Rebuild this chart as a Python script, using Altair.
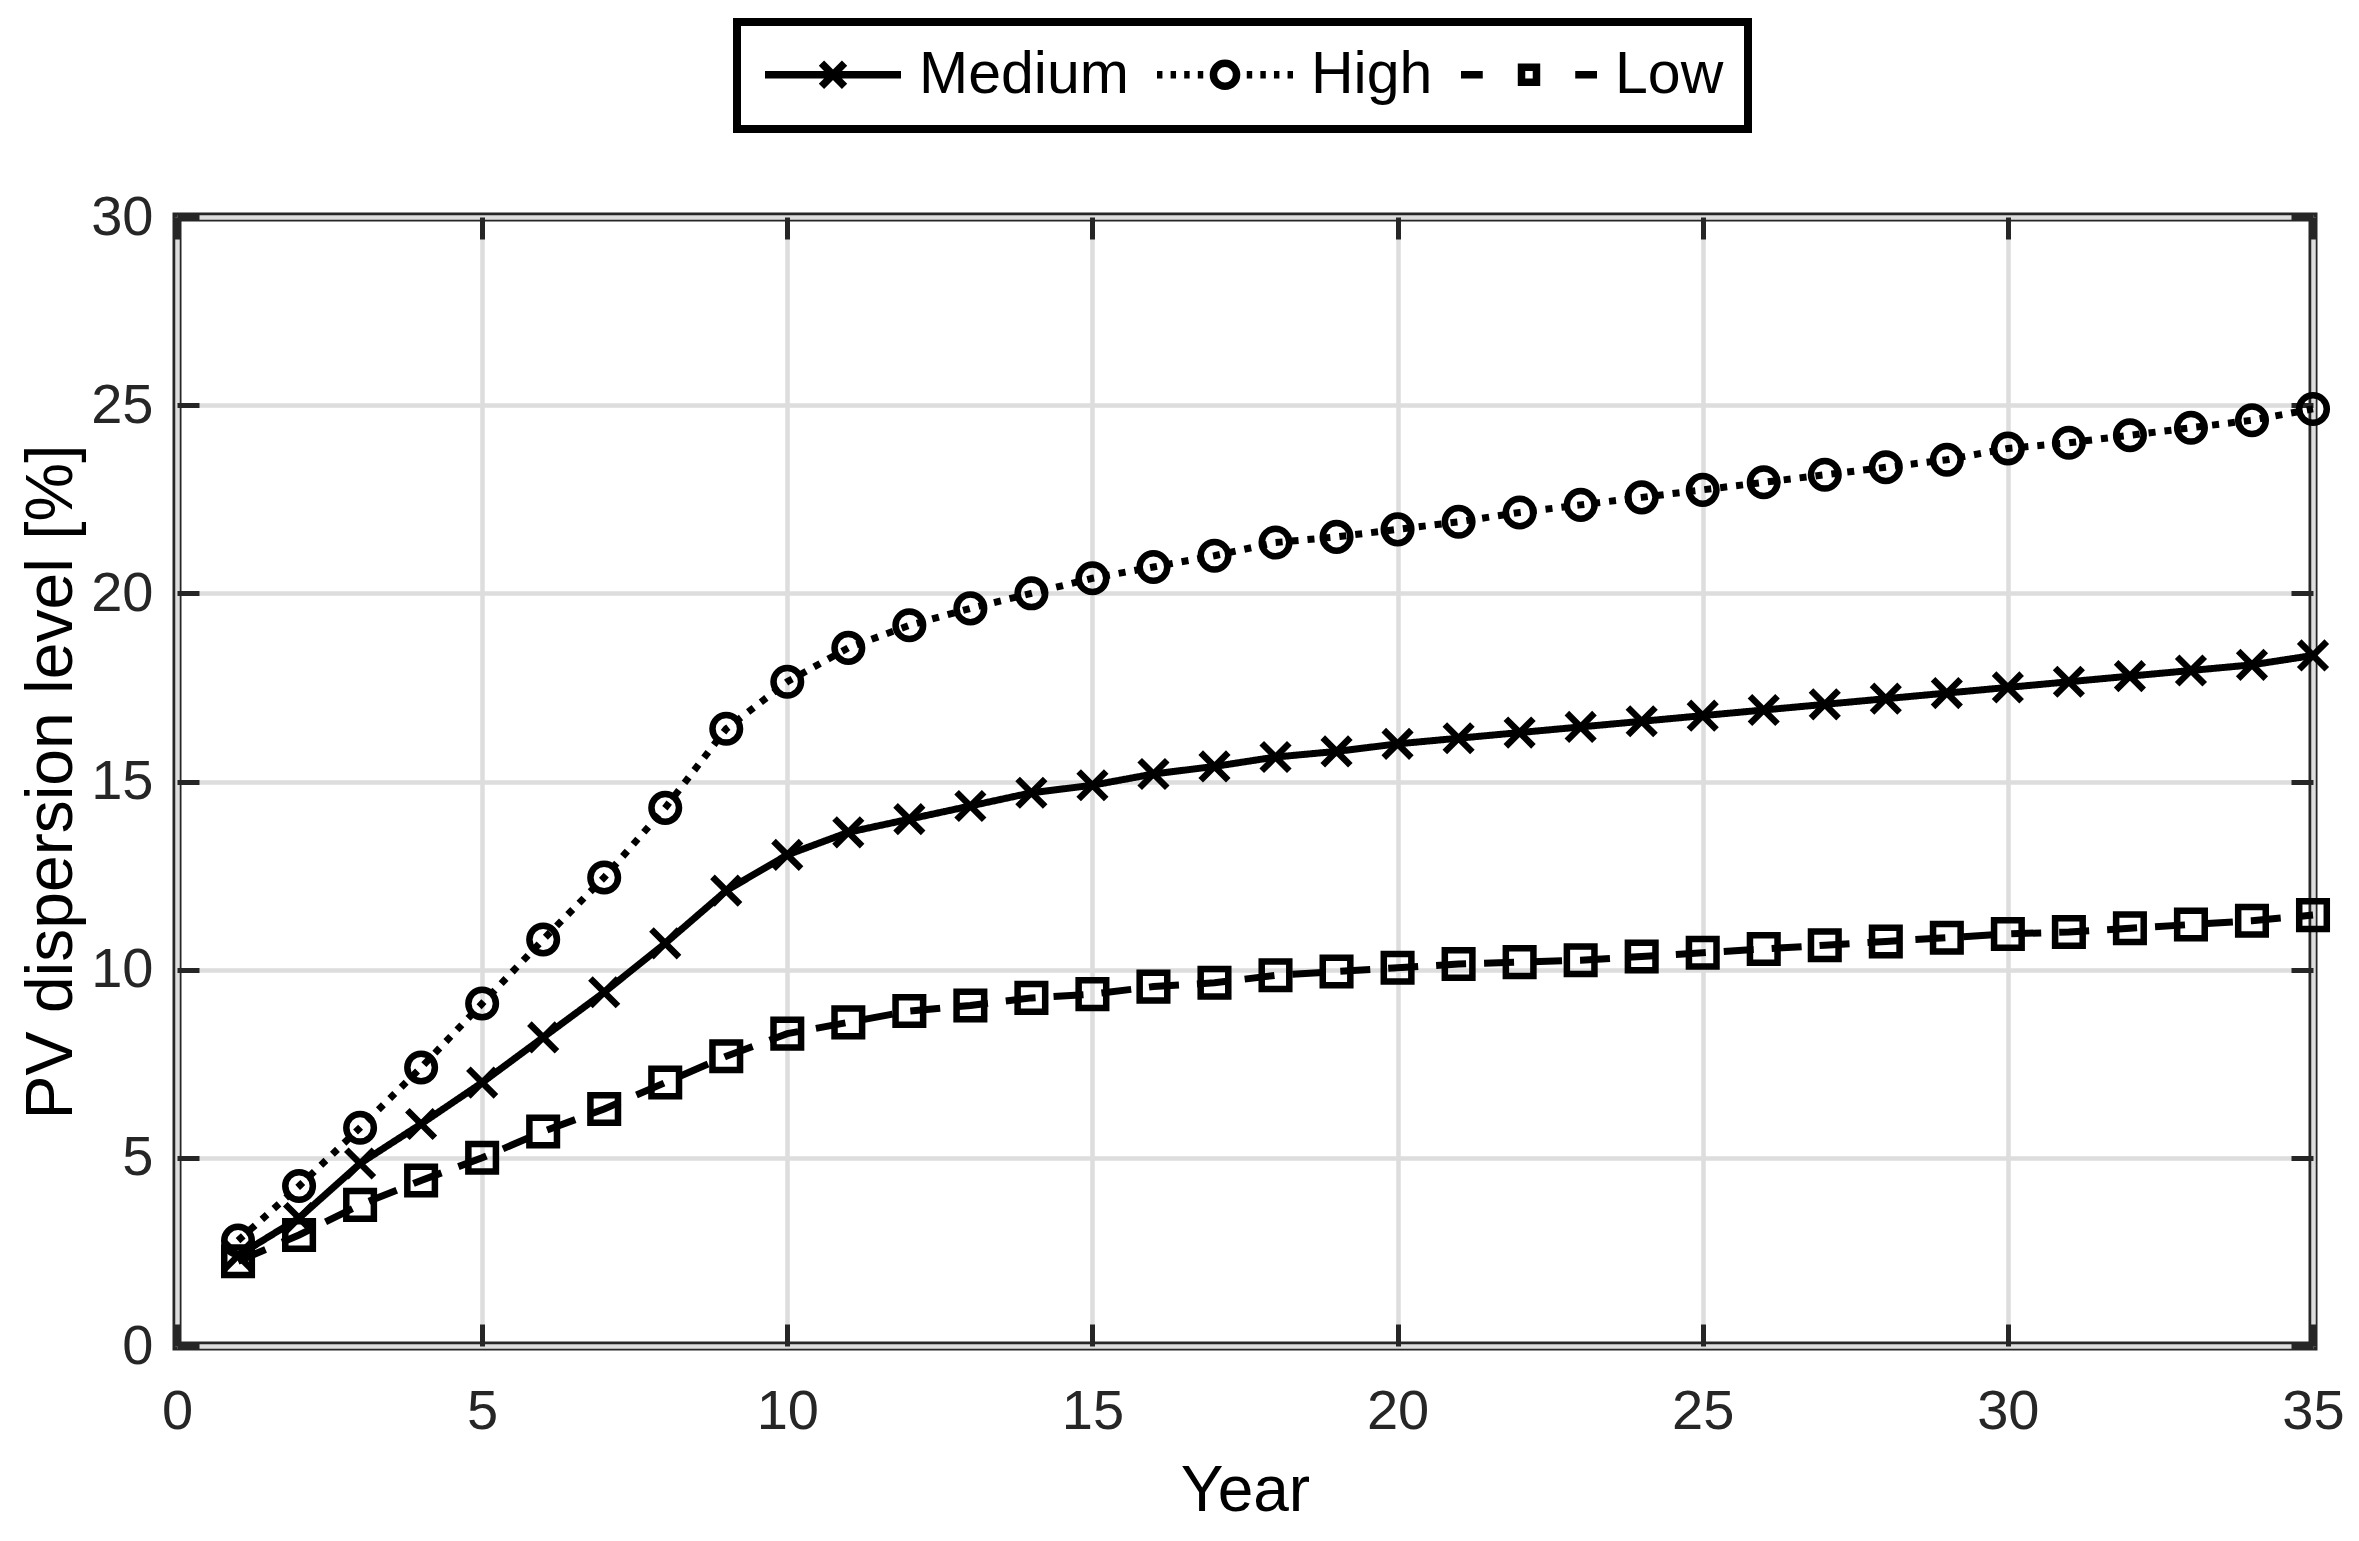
import altair as alt
import pandas as pd

# ---- data ----
years = list(range(1, 36))
medium = [2.4, 3.4, 4.85, 5.9, 7.0, 8.2, 9.4, 10.7, 12.1, 13.05,
          13.65, 14.0, 14.35, 14.7, 14.9, 15.2, 15.4, 15.65, 15.8, 16.0,
          16.15, 16.3, 16.45, 16.6, 16.75, 16.9, 17.05, 17.2, 17.35, 17.5,
          17.65, 17.8, 17.95, 18.1, 18.35]
high = [2.8, 4.25, 5.8, 7.4, 9.1, 10.8, 12.45, 14.3, 16.4, 17.65,
        18.55, 19.15, 19.6, 20.0, 20.4, 20.7, 21.0, 21.35, 21.5, 21.7,
        21.9, 22.15, 22.35, 22.55, 22.75, 22.95, 23.15, 23.35, 23.55, 23.85,
        24.0, 24.2, 24.4, 24.6, 24.9]
low = [2.25, 2.95, 3.75, 4.4, 5.0, 5.7, 6.3, 7.0, 7.7, 8.3,
       8.6, 8.9, 9.05, 9.25, 9.35, 9.55, 9.65, 9.85, 9.95, 10.05,
       10.15, 10.2, 10.25, 10.35, 10.45, 10.55, 10.65, 10.75, 10.85, 10.95,
       11.0, 11.1, 11.2, 11.3, 11.45]
series_names = ["Medium", "High", "Low"]
x_ticks = [0, 5, 10, 15, 20, 25, 30, 35]
y_ticks = [0, 5, 10, 15, 20, 25, 30]

rows = []
for name, vals in zip(series_names, [medium, high, low]):
    for yr, v in zip(years, vals):
        rows.append({"year": yr, "value": v, "series": name})
df = pd.DataFrame(rows)

# ---- style ----
FONT = "Liberation Sans"
TICK = 22
AX = "#262626"
GRID = "#dddddd"

X_PATH = "M-1,-1L1,1M-1,1L1,-1"


def seg(a, b):
    return f"M{a:.3f},0L{b:.3f},0"


def circle(r):
    return (f"M{r},0A{r},{r} 0 1,1 {-r},0A{r},{r} 0 1,1 {r},0Z")


def square(h):
    return f"M{-h},{-h}L{h},{-h}L{h},{h}L{-h},{h}Z"


# legend symbols: line sample + marker drawn as one path
leg_medium = seg(-1, 1) + "M-0.17,-0.17L0.17,0.17M-0.17,0.17L0.17,-0.17"
dots = ""
p = -1.0
while p + 0.08 <= -0.26:
    dots += seg(p, p + 0.08) + seg(-p - 0.08, -p)
    p += 0.2
leg_high = dots + circle(0.17)
leg_low = seg(-1, -0.68) + seg(0.68, 1) + square(0.11)

x_scale = alt.Scale(domain=[0, 35], nice=False)
y_scale = alt.Scale(domain=[0, 30], nice=False)

lines = alt.Chart(df).mark_line(color="black", strokeWidth=7).encode(
    x=alt.X("year:Q", scale=x_scale,
            axis=alt.Axis(values=x_ticks, title="Year", orient="bottom",
                          offset=-TICK, tickSize=TICK, domain=False,
                          grid=True, gridColor=GRID, gridWidth=4.5,
                          tickColor=AX, tickWidth=5,
                          labelFont=FONT, labelFontSize=56, labelColor=AX,
                          labelPadding=38, labelFlush=False,
                          titleFont=FONT, titleFontSize=64, titleColor="black",
                          titleFontWeight="normal", titlePadding=20)),
    y=alt.Y("value:Q", scale=y_scale,
            axis=alt.Axis(values=y_ticks, title="PV dispersion level [%]",
                          orient="left",
                          offset=-TICK, tickSize=TICK, domain=False,
                          grid=True, gridColor=GRID, gridWidth=4.5,
                          tickColor=AX, tickWidth=5,
                          labelFont=FONT, labelFontSize=56, labelColor=AX,
                          labelPadding=24, labelFlush=False,
                          titleFont=FONT, titleFontSize=66, titleColor="black",
                          titleFontWeight="normal", titlePadding=5)),
    strokeDash=alt.StrokeDash("series:N",
                              scale=alt.Scale(domain=series_names,
                                              range=[[1, 0], [7, 9], [30, 18]]),
                              legend=None),
    detail="series:N",
)

points = alt.Chart(df).mark_point(filled=False, color="black", strokeWidth=6.5,
                                  opacity=1).encode(
    x=alt.X("year:Q", scale=x_scale,
            axis=alt.Axis(values=x_ticks, orient="top", labels=False, title=None,
                          offset=-TICK, tickSize=TICK, domain=False, grid=False,
                          tickColor=AX, tickWidth=5)),
    y=alt.Y("value:Q", scale=y_scale,
            axis=alt.Axis(values=y_ticks, orient="right", labels=False, title=None,
                          offset=-TICK, tickSize=TICK, domain=False, grid=False,
                          tickColor=AX, tickWidth=5)),
    shape=alt.Shape("series:N",
                    scale=alt.Scale(domain=series_names,
                                    range=[X_PATH, "circle", "square"]),
                    legend=None),
    size=alt.Size("series:N",
                  scale=alt.Scale(domain=series_names, range=[760, 760, 520]),
                  legend=None),
)

legend_layer = alt.Chart(df).transform_filter("false").mark_point(
    filled=False, color="black", strokeWidth=7, opacity=1).encode(
    shape=alt.Shape("series:N",
                    scale=alt.Scale(domain=series_names,
                                    range=[leg_medium, leg_high, leg_low]),
                    legend=alt.Legend(title=None, orient="none",
                                      legendX=560, legendY=-195,
                                      direction="horizontal", columns=3,
                                      symbolSize=136 * 136,
                                      symbolStrokeWidth=7.5,
                                      symbolStrokeColor="black",
                                      symbolFillColor="transparent",
                                      symbolOpacity=1,
                                      clipHeight=57,
                                      labelFont=FONT, labelFontSize=59,
                                      labelColor="black", labelOffset=14,
                                      labelLimit=0,
                                      columnPadding=24, padding=24,
                                      strokeColor="black",
                                      fillColor="white")),
)

chart = alt.layer(lines, points, legend_layer).resolve_scale(
    shape="independent", size="independent"
).resolve_axis(
    x="independent", y="independent"
).properties(
    width=2136, height=1129,
    autosize=alt.AutoSizeParams(type="none"),
    padding={"left": 169, "top": 209, "right": 34, "bottom": 178},
    background="white",
).configure_view(
    stroke=AX, strokeWidth=9
).configure_legend(
    strokeWidth=8
)

chart.save("out.html", embed_options={"renderer": "svg", "actions": False})
